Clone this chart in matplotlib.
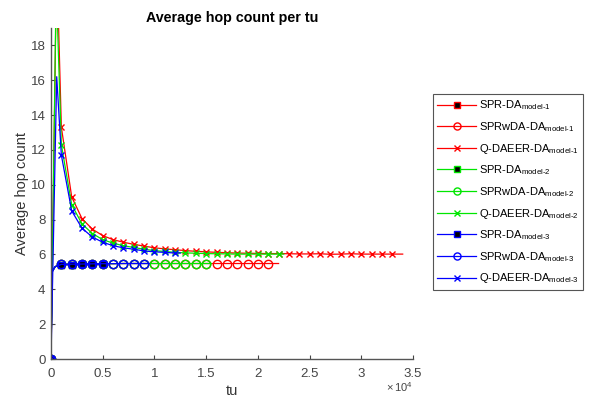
import matplotlib
matplotlib.use('Agg')
import matplotlib.pyplot as plt
from matplotlib.ticker import FuncFormatter

plt.rcParams['font.family'] = ['Liberation Sans', 'DejaVu Sans']
plt.rcParams['mathtext.fontset'] = 'custom'
plt.rcParams['mathtext.rm'] = 'Liberation Sans'
plt.rcParams['mathtext.it'] = 'Liberation Sans'

# SPR-DA (same for all three models, model-3 drawn on top)
spr_tu = [0, 100, 400, 1000, 2000, 3000, 4000, 5000]
spr_hops = [0, 5.0, 5.3, 5.42, 5.42, 5.43, 5.43, 5.43]

# SPRwDA-DA
sprw1_tu = [0, 100, 400, 1000, 2000, 3000, 4000, 5000, 6000, 7000, 8000, 9000, 10000,
            11000, 12000, 13000, 14000, 15000, 16000, 17000, 18000, 19000, 20000, 21000, 22000]
sprw1_hops = [0, 5.0, 5.3, 5.43, 5.44, 5.45, 5.46, 5.47, 5.47, 5.48, 5.48, 5.48, 5.48,
              5.48, 5.48, 5.48, 5.48, 5.48, 5.48, 5.48, 5.48, 5.48, 5.48, 5.48, 5.48]
sprw2_tu = [0, 100, 400, 1000, 2000, 3000, 4000, 5000, 6000, 7000, 8000, 9000, 10000,
            11000, 12000, 13000, 14000, 15000, 15500]
sprw2_hops = [0, 5.0, 5.3, 5.43, 5.44, 5.45, 5.46, 5.47, 5.47, 5.48, 5.48, 5.48, 5.48,
              5.48, 5.48, 5.48, 5.48, 5.48, 5.48]
sprw3_tu = [0, 100, 400, 1000, 2000, 3000, 4000, 5000, 6000, 7000, 8000, 9000, 9500]
sprw3_hops = [0, 5.0, 5.3, 5.43, 5.44, 5.45, 5.46, 5.47, 5.47, 5.48, 5.48, 5.48, 5.48]

# Q-DAEER-DA
q1_tu = [0, 550, 1000, 2000, 3000, 4000, 5000, 6000, 7000, 8000, 9000, 10000,
         11000, 12000, 13000, 14000, 15000, 16000, 17000, 18000, 19000, 20000,
         21000, 22000, 23000, 24000, 25000, 26000, 27000, 28000, 29000, 30000,
         31000, 32000, 33000, 34000]
q1_hops = [0, 23.0, 13.3, 9.3, 8.05, 7.45, 7.08, 6.85, 6.70, 6.58, 6.48, 6.38,
           6.32, 6.27, 6.22, 6.18, 6.15, 6.12, 6.10, 6.08, 6.07, 6.06,
           6.05, 6.05, 6.04, 6.03, 6.03, 6.04, 6.01, 6.02, 6.04, 6.02,
           6.02, 6.02, 6.02, 6.02]
q2_tu = [0, 500, 1000, 2000, 3000, 4000, 5000, 6000, 7000, 8000, 9000, 10000,
         11000, 12000, 13000, 14000, 15000, 16000, 17000, 18000, 19000, 20000,
         21000, 22000, 22500]
q2_hops = [0, 21.5, 12.3, 8.85, 7.75, 7.2, 6.85, 6.65, 6.5, 6.4, 6.3, 6.22,
           6.17, 6.12, 6.09, 6.07, 6.05, 6.04, 6.03, 6.02, 6.02, 6.02,
           6.02, 6.02, 6.02]
q3_tu = [0, 550, 1000, 2000, 3000, 4000, 5000, 6000, 7000, 8000, 9000, 10000,
         11000, 12000, 12500]
q3_hops = [0, 16.2, 11.7, 8.5, 7.5, 7.0, 6.7, 6.5, 6.38, 6.3, 6.2, 6.15,
           6.12, 6.08, 6.08]

colors = ['#ff0000', '#00e600', '#0000ff']
models = ['1', '2', '3']
series = [
    (spr_tu, spr_hops, sprw1_tu, sprw1_hops, q1_tu, q1_hops),
    (spr_tu, spr_hops, sprw2_tu, sprw2_hops, q2_tu, q2_hops),
    (spr_tu, spr_hops, sprw3_tu, sprw3_hops, q3_tu, q3_hops),
]


def marks(tu, last):
    # markers every 1000 tu, none on the tail point
    return [i for i, t in enumerate(tu) if t % 1000 == 0 and t <= last]


fig = plt.figure(figsize=(5.96, 3.97), dpi=100)
ax = fig.add_axes([0.0856, 0.0957, 0.6074, 0.834])

for c, m, (st, sh, wt, wh, qt, qh) in zip(colors, models, series):
    sub = '$_{\\mathrm{model' + '\u2010' + m + '}}$'
    ax.plot(st, sh, color=c, lw=0.9, marker='s', ms=4.5, mfc='black', mec=c,
            markevery=marks(st, st[-1]), label='SPR-DA' + sub)
    ax.plot(wt, wh, color=c, lw=0.9, marker='o', ms=6, mfc='none', mec=c,
            markevery=marks(wt, wt[-2]), label='SPRwDA-DA' + sub)
    ax.plot(qt, qh, color=c, lw=0.9, marker='x', ms=4.5, mew=1.0,
            markevery=marks(qt, qt[-2]), label='Q-DAEER-DA' + sub)

ax.set_xlim(0, 35000)
ax.set_ylim(0, 19)
ax.set_xticks([0, 5000, 10000, 15000, 20000, 25000, 30000, 35000])
ax.set_yticks([0, 2, 4, 6, 8, 10, 12, 14, 16, 18])
ax.xaxis.set_major_formatter(FuncFormatter(lambda v, p: f'{v / 1e4:g}'))
ax.tick_params(direction='in', length=3, labelsize=9.5, colors='#444444',
               top=False, right=False)
ax.tick_params(axis='x', pad=6.5)
ax.tick_params(axis='y', pad=4)
for s in ['top', 'right']:
    ax.spines[s].set_visible(False)
for s in ['left', 'bottom']:
    ax.spines[s].set_color('#555555')
    ax.spines[s].set_linewidth(1.0)

ax.set_title('Average hop count per tu', fontsize=10.3, fontweight='bold', pad=4)
ax.set_xlabel('tu', fontsize=10.5, color='#333333', labelpad=3)
ax.set_ylabel('Average hop count', fontsize=10.5, color='#333333', labelpad=1)
ax.text(1.0, -0.065, r'$\times\,10^{4}$', transform=ax.transAxes, ha='right',
        va='top', fontsize=8, color='#444444')

leg = fig.legend(loc='upper left', bbox_to_anchor=(0.7265, 0.7632), fontsize=8,
                 handlelength=3.5, handletextpad=0.25, labelspacing=0.7,
                 borderpad=0.4, borderaxespad=0, fancybox=False,
                 edgecolor='#555555', framealpha=1, markerscale=0.85)
leg.get_frame().set_linewidth(0.8)

fig.savefig('out.png', dpi=100)
